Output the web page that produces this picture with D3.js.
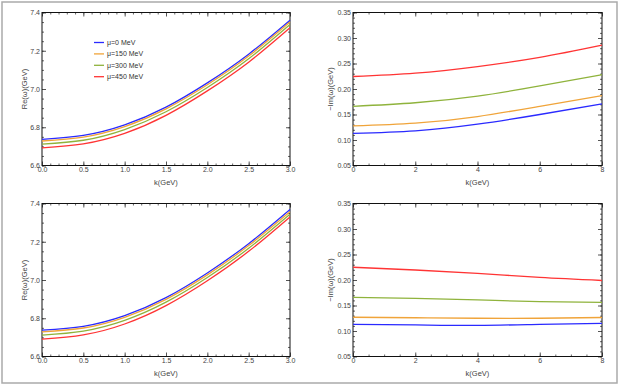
<!doctype html>
<html>
<head>
<meta charset="utf-8">
<title>Re and Im of omega vs k</title>
<script src="https://cdn.jsdelivr.net/npm/d3@7"></script>
<style>
  body { margin: 0; background: white; }
  svg { display: block; font-family: "Liberation Sans", Arial, sans-serif; }
  .tick text { fill: #444; font-size: 7px; }
  .lab { fill: #444; font-size: 7.5px; }
</style>
</head>
<body>
<svg id="chart" width="623" height="387"></svg>
<script>
// series names and colours
var mus = ['\u03bc=0 MeV', '\u03bc=150 MeV', '\u03bc=300 MeV', '\u03bc=450 MeV'];
var colors = ['#2a2aff', '#f0a43a', '#8fb33c', '#ff3434'];

// k grids
var kRe = [0, 0.5, 1.0, 1.5, 2.0, 2.5, 3.0];
var kIm = [0, 2, 4, 6, 8];

// top row: Re(omega)
var reTop = [
  [6.737, 6.757, 6.812, 6.905, 7.032, 7.182, 7.360],
  [6.728, 6.748, 6.803, 6.896, 7.022, 7.172, 7.350],
  [6.712, 6.732, 6.788, 6.881, 7.008, 7.158, 7.337],
  [6.692, 6.713, 6.768, 6.862, 6.990, 7.140, 7.320]
];
// top row: -Im(omega)
var imTop = [
  [0.113, 0.118, 0.131, 0.150, 0.171],
  [0.1275, 0.133, 0.146, 0.166, 0.187],
  [0.166, 0.173, 0.186, 0.206, 0.228],
  [0.2245, 0.231, 0.244, 0.262, 0.286]
];
// bottom row: Re(omega)
var reBot = [
  [6.738, 6.758, 6.814, 6.908, 7.037, 7.190, 7.369],
  [6.729, 6.749, 6.805, 6.899, 7.027, 7.180, 7.357],
  [6.712, 6.733, 6.789, 6.884, 7.013, 7.166, 7.344],
  [6.691, 6.713, 6.770, 6.866, 6.996, 7.150, 7.330]
];
// bottom row: -Im(omega)
var imBot = [
  [0.113, 0.112, 0.111, 0.113, 0.115],
  [0.127, 0.126, 0.125, 0.125, 0.1265],
  [0.166, 0.164, 0.161, 0.1575, 0.156],
  [0.225, 0.2196, 0.213, 0.205, 0.199]
];

var reTicks = [6.6, 6.8, 7.0, 7.2, 7.4];
var imTicks = [0.05, 0.10, 0.15, 0.20, 0.25, 0.30, 0.35];

var svg = d3.select('#chart');

// outer frame
svg.append('rect')
    .attr('x', 2).attr('y', 2)
    .attr('width', 615).attr('height', 381)
    .attr('fill', 'none')
    .attr('stroke', '#aaa')
    .attr('stroke-width', 1.5);

function range(a, b, s) {
  var out = [];
  for (var v = a; v <= b + s / 2; v += s) out.push(+v.toFixed(4));
  return out;
}

function panel(opt) {
  var g = svg.append('g');
  var x = d3.scaleLinear().domain(opt.xd).range([opt.l, opt.r]);
  var y = d3.scaleLinear().domain(opt.yd).range([opt.b, opt.t]);

  var axes = [
    [d3.axisBottom, x, 'translate(0,' + opt.b + ')', opt.xmaj, opt.xmin, opt.fmt[0]],
    [d3.axisTop, x, 'translate(0,' + opt.t + ')', opt.xmaj, opt.xmin, null],
    [d3.axisLeft, y, 'translate(' + opt.l + ',0)', opt.ymaj, opt.ymin, opt.fmt[1]],
    [d3.axisRight, y, 'translate(' + opt.r + ',0)', opt.ymaj, opt.ymin, null]
  ];
  axes.forEach(function (a) {
    // minor ticks
    var mg = g.append('g').attr('transform', a[2])
        .call(a[0](a[1]).tickValues(a[4]).tickSize(-2).tickFormat(''));
    mg.select('.domain').remove();
    mg.selectAll('line').attr('stroke', '#666');
    // major ticks
    var gg = g.append('g').attr('transform', a[2])
        .call(a[0](a[1]).tickValues(a[3]).tickSize(-4).tickPadding(a[5] ? 2 : 0)
          .tickFormat(a[5] ? a[5] : ''));
    gg.select('.domain').remove();
    gg.selectAll('line').attr('stroke', '#555');
    gg.selectAll('text').style('font-size', '7px').attr('fill', '#444');
  });

  // frame
  g.append('rect')
      .attr('x', opt.l).attr('y', opt.t)
      .attr('width', opt.r - opt.l).attr('height', opt.b - opt.t)
      .attr('fill', 'none').attr('stroke', '#111').attr('stroke-width', 1);

  var line = d3.line()
      .x(function (d) { return x(d[0]); })
      .y(function (d) { return y(d[1]); })
      .curve(d3.curveNatural);

  opt.data.forEach(function (s, i) {
    g.append('path')
        .datum(opt.k.map(function (k, j) { return [k, s[j]]; }))
        .attr('d', line)
        .attr('fill', 'none')
        .attr('stroke', colors[i])
        .attr('stroke-width', 1.3);
  });

  g.append('text').attr('class', 'lab')
      .attr('x', (opt.l + opt.r) / 2).attr('y', opt.b + 19)
      .attr('text-anchor', 'middle').text('k(GeV)');
  g.append('text').attr('class', 'lab')
      .attr('transform', 'translate(' + opt.ylx + ',' + (opt.t + opt.b) / 2 + ')rotate(-90)')
      .attr('text-anchor', 'middle').attr('dy', '0.35em').text(opt.ylab);
  return { x: x, y: y, g: g };
}

var reOpt = {
  xd: [0, 3], yd: [6.6, 7.4], k: kRe,
  xmaj: range(0, 3, 0.5), xmin: range(0, 3, 0.1),
  ymaj: reTicks, ymin: range(6.6, 7.4, 0.05),
  fmt: [d3.format('.1f'), d3.format('.1f')],
  ylab: 'Re(\u03c9)(GeV)', ylx: 24
};
var imOpt = {
  xd: [0, 8], yd: [0.05, 0.35], k: kIm,
  xmaj: range(0, 8, 2), xmin: range(0, 8, 0.5),
  ymaj: imTicks, ymin: range(0.05, 0.35, 0.01),
  fmt: [d3.format('d'), d3.format('.2f')],
  ylab: '\u2212Im(\u03c9)(GeV)', ylx: 330
};

var p1 = panel(Object.assign({}, reOpt, { l: 42, r: 290, t: 12.5, b: 165.5, data: reTop }));
panel(Object.assign({}, imOpt, { l: 353, r: 602, t: 12.5, b: 165.5, data: imTop }));
panel(Object.assign({}, reOpt, { l: 42, r: 290, t: 203.5, b: 356.5, data: reBot }));
panel(Object.assign({}, imOpt, { l: 353, r: 602, t: 203.5, b: 356.5, data: imBot }));

// legend in top-left panel
var leg = p1.g.append('g').attr('transform', 'translate(94,42.5)');
mus.forEach(function (m, i) {
  var row = leg.append('g').attr('transform', 'translate(0,' + i * 11.4 + ')');
  row.append('line').attr('x1', 0).attr('x2', 10)
      .attr('stroke', colors[i]).attr('stroke-width', 1.3);
  row.append('text').attr('x', 13).attr('dy', '0.35em')
      .style('font-size', '7px').attr('fill', '#333').text(m);
});
</script>
</body>
</html>
